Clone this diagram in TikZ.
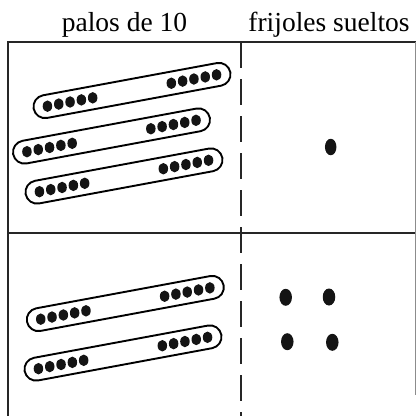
\documentclass[tikz,border=0pt]{standalone}
\usepackage{fontspec}
\setmainfont{Liberation Serif}
\usepackage{tikz}
\usetikzlibrary{positioning, shapes.geometric}

\tikzset{
    rule/.style={line width=1.9pt, black!85},
    splitline/.style={line width=2pt, black!85, dash pattern=on 26pt off 11pt},
    stick/.style={
        draw,
        rectangle,
        rounded corners=11.5pt,
        line width=1.9pt,
        minimum width=200pt,
        minimum height=23pt,
        inner sep=0pt
    },
    bean/.style={ellipse, fill=black!92, inner sep=0pt, minimum width=9.5pt, minimum height=11.5pt},
    loose/.style={ellipse, fill=black!92, inner sep=0pt, minimum width=12.5pt, minimum height=17pt},
    heading/.style={anchor=base, font=\fontsize{27.5}{30}\selectfont, inner sep=0pt}
}

\begin{document}
\begin{tikzpicture}[x=1pt, y=-1pt]
    \useasboundingbox (0,0) rectangle (416,416);

    % table frame
    \coordinate (tl) at (8,42);
    \coordinate (tr) at (416,42);
    \coordinate (ml) at (8,233);
    \coordinate (mr) at (416,233);
    \coordinate (bl) at (8,416);
    \coordinate (dtop) at (241,42);
    \coordinate (dbot) at (241,416);
    \draw[rule] (bl) -- (tl) -- (tr);
    \draw[rule] (ml) -- (mr);
    \draw[splitline] (dtop) -- (dbot);
    \draw[line width=0.8pt, black!45] (415,42) -- (415,395);

    % headings
    \node[heading] (tens) at (124.5,31.7) {palos de 10};
    \node[heading] (ones) at (329,31.7) {frijoles sueltos};

    % sticks of ten
    \foreach \name/\cx/\cy in {s1/132/90.5, s2/111.5/136, s3/124/176, s4/125.3/303.5, s5/123/353} {
        \node[stick, rotate=10.5] (\name) at (\cx,\cy) {};
        \begin{scope}[shift={(\cx,\cy)}, rotate=10.5]
            \foreach \d in {-86,-74.5,-63,-51.5,-40, 40,51.5,63,74.5,86}
                \node[bean] at (\d,0) {};
        \end{scope}
    }

    % loose beans
    \node[loose, minimum width=11.5pt, minimum height=16.5pt] (b0) at (330.7,147) {};
    \node[loose] (b1) at (285.7,297.3) {};
    \node[loose] (b2) at (329,297) {};
    \node[loose] (b3) at (287.3,341.7) {};
    \node[loose] (b4) at (332.3,342.3) {};
\end{tikzpicture}
\end{document}
